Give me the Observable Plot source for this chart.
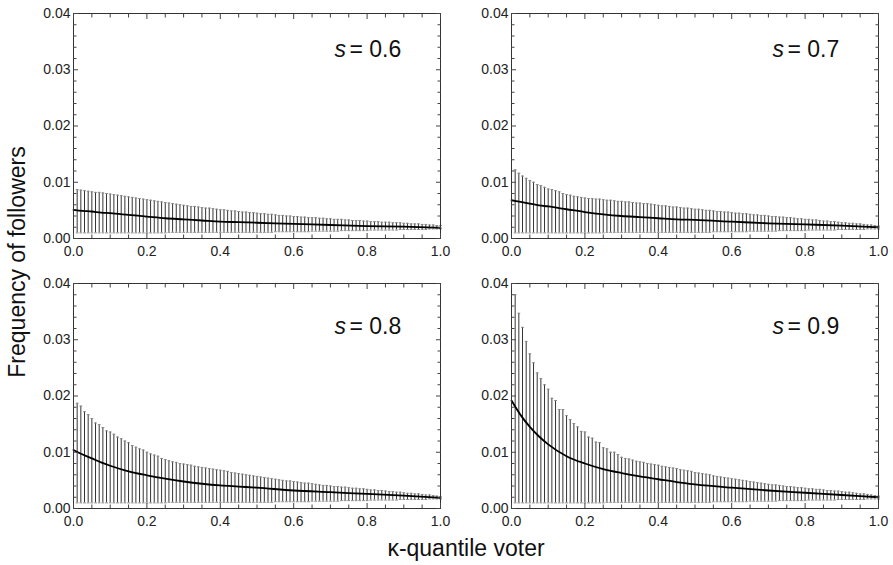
<!DOCTYPE html>
<html><head><meta charset="utf-8">
<script src="https://cdn.jsdelivr.net/npm/d3@7"></script>
<script src="https://cdn.jsdelivr.net/npm/@observablehq/plot@0.6"></script>
<style>
body{margin:0;background:#fff;}
#wrap{position:relative;width:893px;height:565px;font-family:"Liberation Sans",Arial,Helvetica,sans-serif;color:#111;overflow:hidden;}
.panel{position:absolute;}
#ylab{position:absolute;left:17px;top:262px;transform:translate(-50%,-50%) rotate(-90deg);font-size:23px;line-height:23px;white-space:nowrap;}
#xlab{position:absolute;left:466px;top:537px;transform:translateX(-50%);font-size:23px;line-height:23px;white-space:nowrap;}
</style></head><body>
<div id="wrap"></div>
<script>
// ---------- data ----------
const sLabels = ["0.6", "0.7", "0.8", "0.9"];

const kappa = [0.01,0.02,0.03,0.04,0.05,0.06,0.07,0.08,0.09,0.10,
0.11,0.12,0.13,0.14,0.15,0.16,0.17,0.18,0.19,0.20,
0.21,0.22,0.23,0.24,0.25,0.26,0.27,0.28,0.29,0.30,
0.31,0.32,0.33,0.34,0.35,0.36,0.37,0.38,0.39,0.40,
0.41,0.42,0.43,0.44,0.45,0.46,0.47,0.48,0.49,0.50,
0.51,0.52,0.53,0.54,0.55,0.56,0.57,0.58,0.59,0.60,
0.61,0.62,0.63,0.64,0.65,0.66,0.67,0.68,0.69,0.70,
0.71,0.72,0.73,0.74,0.75,0.76,0.77,0.78,0.79,0.80,
0.81,0.82,0.83,0.84,0.85,0.86,0.87,0.88,0.89,0.90,
0.91,0.92,0.93,0.94,0.95,0.96,0.97,0.98,0.99,1.00];

const lower = [.0010,.0010,.0010,.0010,.0010,.0010,.0010,.0010,.0010,.0010,
.0010,.0010,.0010,.0010,.0010,.0010,.0010,.0010,.0010,.0010,
.0010,.0010,.0010,.0010,.0010,.0011,.0011,.0011,.0011,.0011,
.0011,.0011,.0011,.0011,.0011,.0011,.0011,.0011,.0011,.0011,
.0011,.0011,.0011,.0011,.0011,.0011,.0011,.0011,.0011,.0011,
.0011,.0011,.0011,.0011,.0012,.0012,.0012,.0012,.0012,.0012,
.0012,.0012,.0012,.0012,.0013,.0013,.0013,.0013,.0013,.0013,
.0013,.0013,.0014,.0014,.0014,.0014,.0014,.0014,.0014,.0014,
.0015,.0015,.0015,.0015,.0015,.0015,.0015,.0015,.0016,.0016,
.0016,.0016,.0016,.0016,.0016,.0016,.0017,.0017,.0017,.0017];

const upper06 = [.0087,.0086,.0085,.0084,.0083,.0082,.0082,.0081,.0080,.0079,
.0078,.0077,.0076,.0075,.0074,.0073,.0072,.0071,.0070,.0069,
.0068,.0067,.0066,.0065,.0064,.0063,.0062,.0061,.0060,.0059,
.0058,.0057,.0057,.0056,.0055,.0054,.0054,.0053,.0052,.0051,
.0051,.0050,.0049,.0049,.0048,.0047,.0047,.0046,.0046,.0045,
.0044,.0044,.0043,.0043,.0042,.0041,.0041,.0040,.0040,.0039,
.0039,.0038,.0038,.0037,.0037,.0037,.0036,.0036,.0035,.0035,
.0034,.0034,.0034,.0033,.0033,.0032,.0032,.0032,.0031,.0031,
.0030,.0030,.0030,.0029,.0029,.0029,.0028,.0028,.0028,.0027,
.0027,.0026,.0026,.0026,.0025,.0025,.0024,.0024,.0023,.0023];

const upper07 = [.0122,.0116,.0111,.0107,.0103,.0100,.0096,.0094,.0091,.0088,
.0087,.0085,.0083,.0080,.0078,.0077,.0075,.0074,.0073,.0072,
.0071,.0071,.0070,.0070,.0069,.0068,.0068,.0067,.0066,.0066,
.0065,.0065,.0064,.0063,.0063,.0062,.0062,.0061,.0060,.0059,
.0058,.0058,.0057,.0056,.0056,.0055,.0054,.0054,.0053,.0052,
.0052,.0051,.0050,.0050,.0049,.0048,.0048,.0047,.0047,.0046,
.0045,.0045,.0044,.0044,.0043,.0042,.0042,.0041,.0041,.0040,
.0039,.0039,.0038,.0038,.0037,.0037,.0036,.0035,.0035,.0034,
.0034,.0033,.0033,.0032,.0031,.0031,.0030,.0030,.0029,.0028,
.0028,.0027,.0027,.0026,.0026,.0025,.0024,.0024,.0023,.0022];

const upper08 = [.0187,.0182,.0172,.0167,.0160,.0152,.0149,.0144,.0138,.0136,
.0132,.0127,.0124,.0120,.0117,.0112,.0109,.0106,.0104,.0100,
.0097,.0095,.0093,.0089,.0087,.0085,.0083,.0082,.0080,.0079,
.0078,.0077,.0075,.0074,.0073,.0072,.0071,.0070,.0069,.0068,
.0067,.0066,.0064,.0063,.0062,.0061,.0060,.0059,.0058,.0057,
.0056,.0055,.0054,.0053,.0052,.0051,.0050,.0049,.0049,.0048,
.0047,.0046,.0045,.0045,.0044,.0043,.0042,.0041,.0041,.0040,
.0039,.0039,.0038,.0038,.0037,.0036,.0036,.0035,.0035,.0034,
.0033,.0033,.0032,.0032,.0031,.0030,.0030,.0029,.0029,.0028,
.0027,.0027,.0026,.0026,.0025,.0024,.0024,.0023,.0022,.0021];

const upper09 = [.0380,.0347,.0322,.0297,.0275,.0259,.0241,.0231,.0220,.0212,
.0196,.0192,.0176,.0176,.0165,.0158,.0151,.0145,.0137,.0136,
.0127,.0125,.0118,.0117,.0108,.0106,.0100,.0100,.0096,.0091,
.0089,.0088,.0086,.0084,.0083,.0082,.0080,.0079,.0078,.0077,
.0075,.0074,.0073,.0072,.0071,.0069,.0068,.0067,.0066,.0064,
.0063,.0062,.0061,.0060,.0058,.0057,.0056,.0055,.0054,.0053,
.0052,.0051,.0050,.0049,.0048,.0047,.0046,.0045,.0044,.0043,
.0042,.0042,.0041,.0040,.0039,.0039,.0038,.0037,.0037,.0036,
.0035,.0035,.0034,.0034,.0033,.0032,.0032,.0031,.0031,.0030,
.0029,.0029,.0028,.0027,.0026,.0026,.0025,.0024,.0023,.0022];

const curveX  = [0, 0.025, 0.05, 0.075, 0.1, 0.15, 0.2, 0.25, 0.3, 0.35, 0.4, 0.45, 0.5, 0.6, 0.7, 0.8, 0.9, 1.0];
const curve06 = [.0051,.0049,.0048,.0046,.0045,.0042,.0039,.0036,.0034,.0032,.0030,.0029,.0028,.0026,.0024,.0022,.0021,.0019];
const curve07 = [.0068,.0065,.0062,.0059,.0057,.0052,.0047,.0043,.0040,.0038,.0036,.0034,.0033,.0030,.0027,.0025,.0023,.0020];
const curve08 = [.0104,.0096,.0089,.0082,.0076,.0066,.0059,.0053,.0048,.0044,.0041,.0039,.0037,.0032,.0029,.0026,.0023,.0019];
const curve09 = [.0192,.0166,.0145,.0128,.0114,.0093,.0080,.0070,.0063,.0057,.0052,.0047,.0043,.0037,.0032,.0028,.0024,.0020];

const xMajorTicks = [0, 0.2, 0.4, 0.6, 0.8, 1.0];
const xMinorTicks = [0.05,0.1,0.15,0.25,0.3,0.35,0.45,0.5,0.55,0.65,0.7,0.75,0.85,0.9,0.95];
const yMajorTicks = [0, 0.01, 0.02, 0.03, 0.04];
const yMinorTicks = [0.002,0.004,0.006,0.008,0.012,0.014,0.016,0.018,0.022,0.024,0.026,0.028,0.032,0.034,0.036,0.038];

const uppers = [upper06, upper07, upper08, upper09];
const curves = [curve06, curve07, curve08, curve09];

// ---------- layout ----------
const layout = [
  {left:0,   top:0,   width:446, height:265, ml:73, mr:6,  mt:13, mb:27, dy:36},
  {left:438, top:0,   width:455, height:265, ml:73, mr:15, mt:13, mb:27, dy:36},
  {left:0,   top:270, width:446, height:295, ml:73, mr:6,  mt:13, mb:57, dy:43},
  {left:438, top:270, width:455, height:295, ml:73, mr:15, mt:13, mb:57, dy:43}
];

const capSymbol = {draw(ctx, size) { const r = Math.sqrt(size / Math.PI); ctx.moveTo(-r, 0); ctx.lineTo(r, 0); }};
const FONT = "Liberation Sans, Arial, Helvetica, sans-serif";
const wrap = document.getElementById("wrap");

layout.forEach((L, i) => {
  const rows = kappa.map((k, j) => ({k, lo: lower[j], hi: uppers[i][j]}));
  const crow = curveX.map((x, j) => ({x, y: curves[i][j]}));
  const tickColor = "#444";
  const chart = Plot.plot({
    width: L.width, height: L.height,
    marginLeft: L.ml, marginRight: L.mr, marginTop: L.mt, marginBottom: L.mb,
    x: {domain: [0, 1]},
    y: {domain: [0, 0.04]},
    style: {fontFamily: FONT, fontSize: "14px", color: "#222", background: "transparent", overflow: "visible"},
    marks: [
      Plot.ruleX(rows, {x: "k", y1: "lo", y2: "hi", stroke: "#1e1e1e", strokeWidth: 0.9}),
      Plot.dot(rows, {x: "k", y: "hi", symbol: capSymbol, r: 1.4, fill: "none", stroke: "#8a8a8a", strokeWidth: 1}),
      Plot.dot(rows, {x: "k", y: "lo", symbol: capSymbol, r: 1.4, fill: "none", stroke: "#8a8a8a", strokeWidth: 1}),
      Plot.line(crow, {x: "x", y: "y", stroke: "#000", strokeWidth: 1.8, curve: "monotone-x"}),
      Plot.frame({stroke: "#333", strokeWidth: 1}),
      // labels
      Plot.axisX(xMajorTicks, {tickSize: 0, tickPadding: 8, tickFormat: d3.format(".1f"), label: null, fill: "#222"}),
      Plot.axisY(yMajorTicks, {tickSize: 0, tickPadding: 3, tickFormat: d3.format(".2f"), label: null, fill: "#222"}),
      // inward ticks
      Plot.axisX(xMajorTicks, {anchor: "bottom", tickSize: -5, fill: "none", label: null, stroke: tickColor}),
      Plot.axisX(xMinorTicks, {anchor: "bottom", tickSize: -3.5, fill: "none", label: null, stroke: tickColor}),
      Plot.axisX(xMajorTicks, {anchor: "top", tickSize: -5, fill: "none", label: null, stroke: tickColor}),
      Plot.axisX(xMinorTicks, {anchor: "top", tickSize: -3.5, fill: "none", label: null, stroke: tickColor}),
      Plot.axisY(yMajorTicks, {anchor: "left", tickSize: -5, fill: "none", label: null, stroke: tickColor}),
      Plot.axisY(yMinorTicks, {anchor: "left", tickSize: -3.5, fill: "none", label: null, stroke: tickColor}),
      Plot.axisY(yMajorTicks, {anchor: "right", tickSize: -5, fill: "none", label: null, stroke: tickColor}),
      Plot.axisY(yMinorTicks, {anchor: "right", tickSize: -3.5, fill: "none", label: null, stroke: tickColor}),
      // panel annotation  "s = 0.x"
      Plot.text([sLabels[i]], {frameAnchor: "top-left", dx: 261, dy: L.dy, text: () => "s", fontStyle: "italic", fontSize: 23, textAnchor: "start", lineAnchor: "middle", fill: "#111"}),
      Plot.text([sLabels[i]], {frameAnchor: "top-left", dx: 276, dy: L.dy, text: d => "= " + d, fontSize: 23, textAnchor: "start", lineAnchor: "middle", fill: "#111"})
    ]
  });
  const div = document.createElement("div");
  div.className = "panel";
  div.style.left = L.left + "px";
  div.style.top = L.top + "px";
  div.style.width = L.width + "px";
  div.style.height = L.height + "px";
  div.appendChild(chart);
  wrap.appendChild(div);
});

const yl = document.createElement("div");
yl.id = "ylab"; yl.textContent = "Frequency of followers";
wrap.appendChild(yl);
const xl = document.createElement("div");
xl.id = "xlab"; xl.textContent = "κ-quantile voter";
wrap.appendChild(xl);
</script>
</body></html>
